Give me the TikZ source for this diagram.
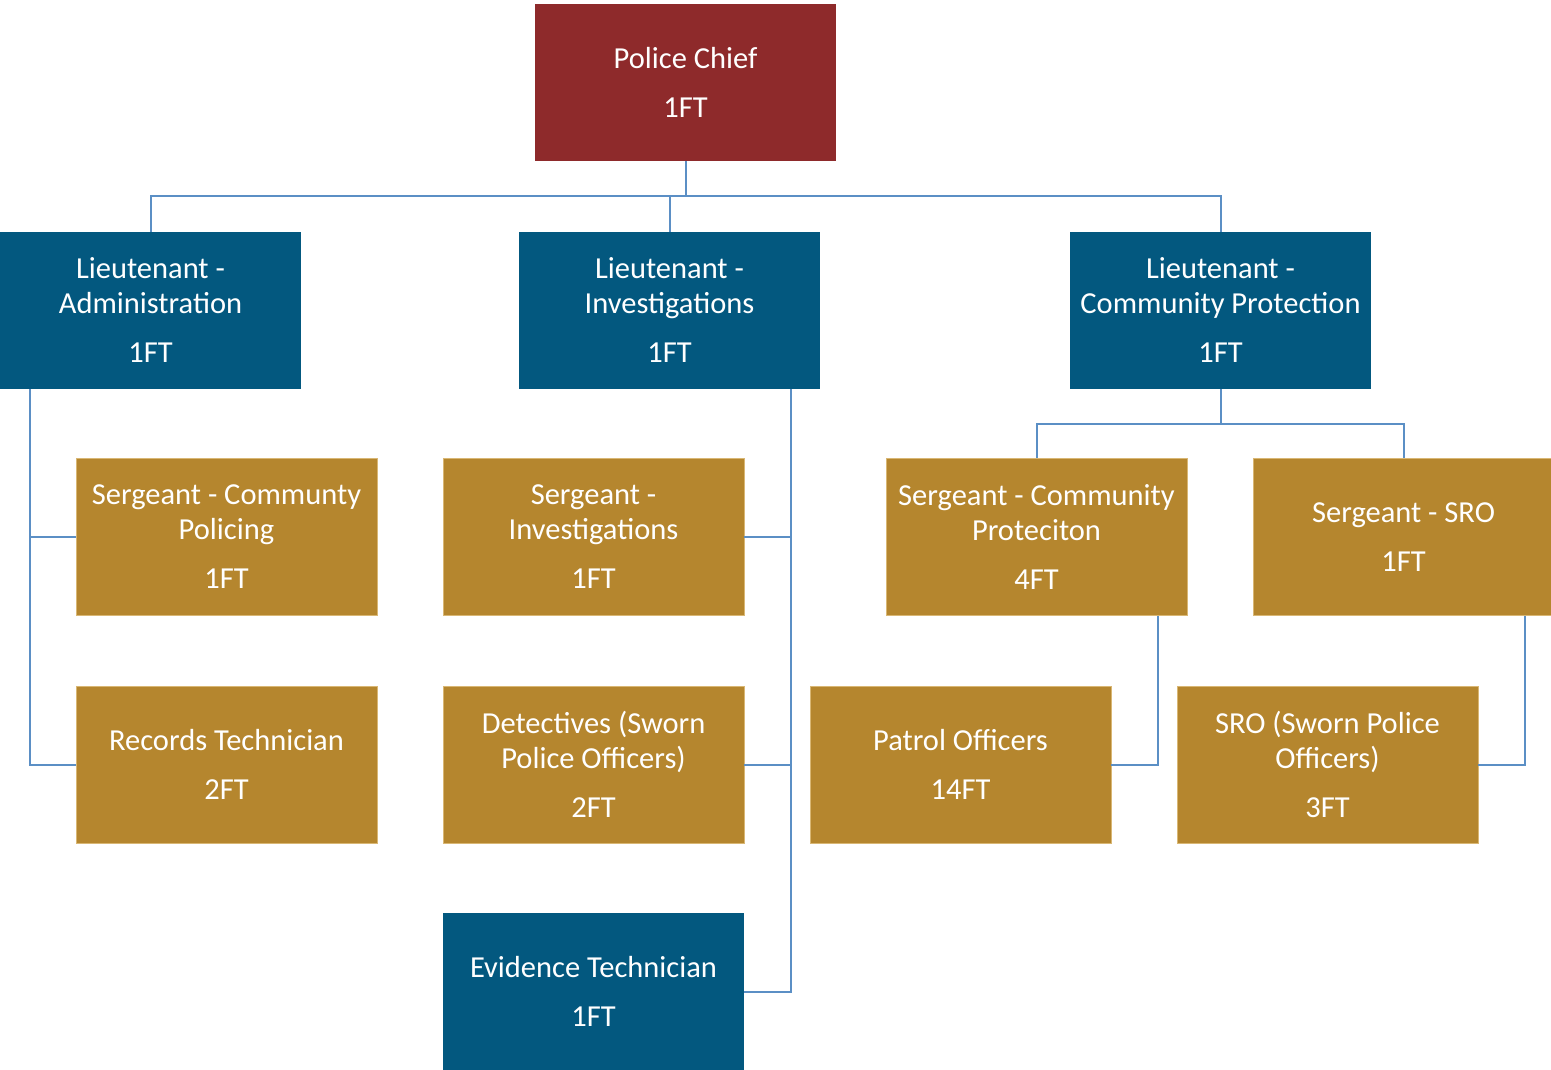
\documentclass[tikz,border=0pt]{standalone}
\usepackage{fontspec}
\setmainfont{Carlito}
\definecolor{chiefred}{HTML}{8E2A2B}
\definecolor{ltblue}{HTML}{03587F}
\definecolor{sggold}{HTML}{B5862E}
\definecolor{goldedge}{HTML}{D9B774}
\definecolor{linkblue}{HTML}{5B8FC5}
\tikzset{
  box/.style={minimum width=301pt, minimum height=157pt, inner sep=0pt,
    align=center, text=white, font=\fontsize{30.5}{35}\selectfont},
  chiefbox/.style={box, fill=chiefred},
  ltbox/.style={box, fill=ltblue},
  goldbox/.style={box, fill=sggold, draw=goldedge, line width=0.8pt},
  link/.style={draw=linkblue, line width=2pt}
}
\begin{document}
\begin{tikzpicture}[x=1pt,y=-1pt]
\useasboundingbox (0,0) rectangle (1551,1070);
\clip (0,0) rectangle (1551,1070);

% top
\node[chiefbox] (chief) at (685.5,82.5) {Police Chief\\[14pt]1FT};

% lieutenants
\node[ltbox] (adm)  at (150.5,310.5)  {Lieutenant -\\Administration\\[14pt]1FT};
\node[ltbox] (inv)  at (669.5,310.5)  {Lieutenant -\\Investigations\\[14pt]1FT};
\node[ltbox] (comm) at (1220.5,310.5) {Lieutenant -\\Community Protection\\[14pt]1FT};

% sergeants
\node[goldbox] (scp)  at (226.5,537)  {Sergeant - Communty\\Policing\\[14pt]1FT};
\node[goldbox] (sinv) at (593.5,537)  {Sergeant -\\Investigations\\[14pt]1FT};
\node[goldbox] (scpr) at (1036.5,537) {Sergeant - Community\\Proteciton\\[14pt]4FT};
\node[goldbox] (ssro) at (1403.5,537) {Sergeant - SRO\\[14pt]1FT};

% staff
\node[goldbox] (rec) at (226.5,764.5)  {Records Technician\\[14pt]2FT};
\node[goldbox] (det) at (593.5,764.5)  {Detectives (Sworn\\Police Officers)\\[14pt]2FT};
\node[goldbox] (pat) at (960.5,764.5)  {Patrol Officers\\[14pt]14FT};
\node[goldbox] (sro) at (1327.5,764.5) {SRO (Sworn Police\\Officers)\\[14pt]3FT};
\node[ltbox]   (evid) at (593.5,991.5) {Evidence Technician\\[14pt]1FT};

% chief to lieutenants
\coordinate (bus) at (685.5,196);
\draw[link] (chief.south) -- (bus);
\draw[link] (adm.north) |- (bus) -| (comm.north);
\draw[link] (inv.north) -- (inv.north |- bus);

% administration
\coordinate (admrail) at ([xshift=30pt]adm.south west);
\draw[link] (admrail) |- (rec.west);
\draw[link] (admrail |- scp.west) -- (scp.west);

% investigations
\coordinate (invrail) at ([xshift=-29pt]inv.south east);
\draw[link] (invrail) |- (evid.east);
\draw[link] (invrail |- sinv.east) -- (sinv.east);
\draw[link] (invrail |- det.east) -- (det.east);

% community protection
\coordinate (cbus) at (1220.5,424);
\draw[link] (comm.south) -- (cbus);
\draw[link] (scpr.north) |- (cbus) -| (ssro.north);
\draw[link] ([xshift=-29pt]scpr.south east) |- (pat.east);
\draw[link] ([xshift=-29pt]ssro.south east) |- (sro.east);
\end{tikzpicture}
\end{document}
